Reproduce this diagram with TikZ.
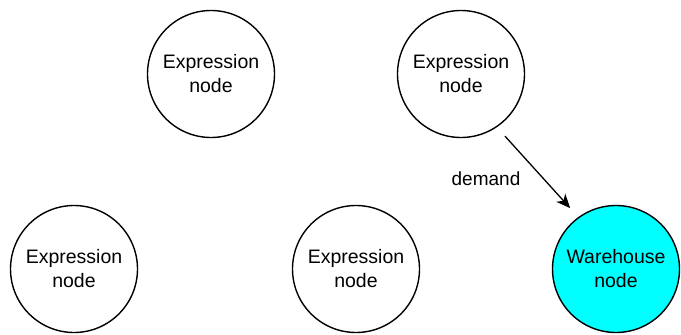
\documentclass[tikz,border=0pt]{standalone}
\usepackage{fontspec}
\setmainfont{Liberation Sans}
\usetikzlibrary{arrows.meta,calc}
\definecolor{whcyan}{HTML}{00FFFF}
\begin{document}
\begin{tikzpicture}[x=1pt,y=-1pt,
  circ/.style={circle,draw=black,line width=1.4pt,minimum size=127pt,inner sep=0pt,align=center,
    font=\fontsize{19.5}{24}\selectfont},
  lbl/.style={inner sep=0pt,font=\fontsize{19}{23}\selectfont},
  conn/.style={line width=1.3pt,-{Stealth[length=14pt,width=12pt,inset=4pt]},shorten <=12pt,shorten >=12pt}]
\useasboundingbox (0,0) rectangle (681,335);
\node[circ] (tl) at (211,74) {Expression\\node};
\node[circ] (tr) at (461,74) {Expression\\node};
\node[circ] (bl) at (74,269) {Expression\\node};
\node[circ] (bm) at (356,269) {Expression\\node};
\node[circ,fill=whcyan] (br) at (616,269) {Warehouse\\node};
\draw[conn] (tr.-56) -- (br.126);
\node[lbl] (dem) at (486,179) {demand};
\end{tikzpicture}
\end{document}
